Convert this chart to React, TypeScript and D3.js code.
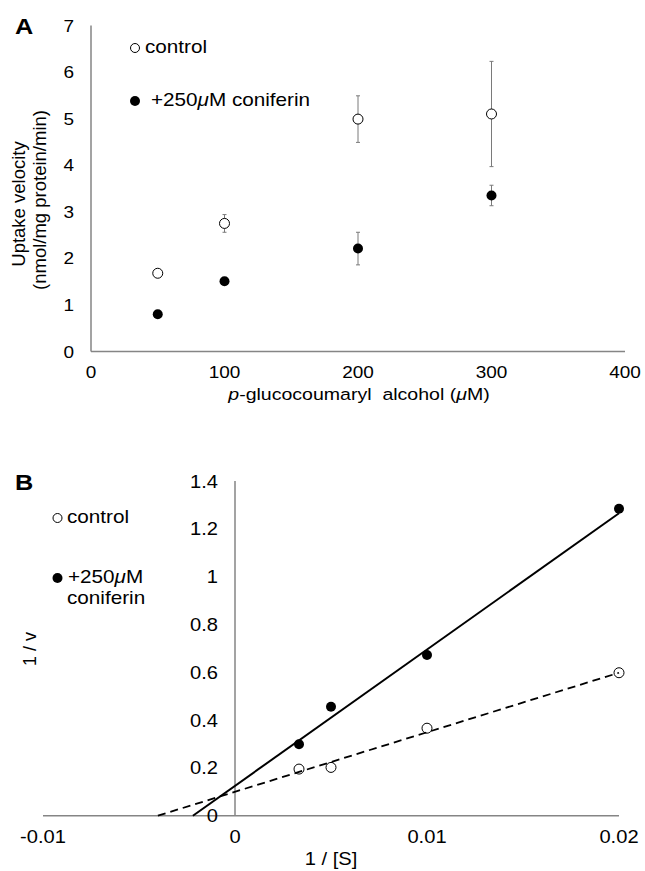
import React from 'react';
import * as d3 from 'd3';

// panel A: uptake velocity vs substrate
const concA = [50, 100, 200, 300];
const controlV = [1.68, 2.75, 4.99, 5.1];
const controlErr = [0, 0.19, 0.5, 1.13];
const coniferinV = [0.8, 1.51, 2.21, 3.35];
const coniferinErr = [0, 0, 0.35, 0.22];
const ticksAx = [0, 100, 200, 300, 400];
const ticksAy = [0, 1, 2, 3, 4, 5, 6, 7];

// panel B: Lineweaver-Burk
const invS = [1 / 300, 1 / 200, 1 / 100, 1 / 50];
const controlInvV = [0.195, 0.202, 0.366, 0.598];
const coniferinInvV = [0.299, 0.456, 0.672, 1.284];
const controlFit = [24.9, 0.1]; // slope, intercept
const coniferinFit = [57.0, 0.125];
const ticksBx = [-0.01, 0, 0.01, 0.02];
const ticksBy = [0, 0.2, 0.4, 0.6, 0.8, 1, 1.2, 1.4];

const FONT = '"Liberation Sans", Arial, Helvetica, sans-serif';
const AXIS = '#858585';
const SX = 1.15;

const T = ({ x, y, size = 18, anchor = 'start', children, weight = 'normal' }: any) => (
  <text
    transform={`translate(${x},${y}) scale(${SX},1)`}
    fontSize={size}
    textAnchor={anchor}
    fontWeight={weight}
    fill="#000"
  >
    {children}
  </text>
);

const xA = d3.scaleLinear().domain([0, 400]).range([91, 625]);
const yA = d3.scaleLinear().domain([0, 7]).range([351.5, 25.5]);
const xB = d3.scaleLinear().domain([-0.01, 0.02]).range([43, 619]);
const yB = d3.scaleLinear().domain([0, 1.4]).range([815.7, 481]);

const fitLine = (fit: number[]) => {
  const x0 = -fit[1] / fit[0];
  const pts: [number, number][] = [x0, 0.02].map(x => [xB(x), yB(fit[1] + fit[0] * x)]);
  return d3.line()(pts) as string;
};

const fmtB = (d: number) => (d === 0 ? '0' : String(+d.toFixed(2)));

export default function App() {
  return (
    <svg
      width={645}
      height={871}
      style={{ position: 'absolute', left: 0, top: 0, background: '#fff' }}
      fontFamily={FONT}
    >
      <rect width={645} height={871} fill="#fff" />

      {/* ---------- Panel A ---------- */}
      <T x={15} y={34} size={22} weight="bold">A</T>
      <line x1={xA(0)} x2={xA(0)} y1={yA(0)} y2={yA(7)} stroke={AXIS} strokeWidth={1.5} />
      <line x1={xA(0)} x2={xA(400)} y1={yA(0)} y2={yA(0)} stroke={AXIS} strokeWidth={1.5} />
      {ticksAy.map(t => (
        <T key={'ay' + t} x={74} y={yA(t) + 6} size={16.5} anchor="end">{t}</T>
      ))}
      {ticksAx.map(t => (
        <T key={'ax' + t} x={xA(t)} y={378} size={16.5} anchor="middle">{t}</T>
      ))}
      <text transform="translate(25,204) rotate(-90)" fontSize={18.5} textAnchor="middle">Uptake velocity</text>
      <text transform="translate(46,200) rotate(-90)" fontSize={18.5} textAnchor="middle">(nmol/mg protein/min)</text>
      <T x={359} y={400} size={17} anchor="middle">
        <tspan fontStyle="italic">p</tspan>-glucocoumaryl{'\u00A0 '}alcohol (<tspan fontStyle="italic">μ</tspan>M)
      </T>

      {[{ v: controlV, e: controlErr }, { v: coniferinV, e: coniferinErr }].map((s, si) =>
        concA.map((c, i) =>
          s.e[i] > 0 ? (
            <g key={`eb${si}-${i}`} stroke="#7a7a7a" strokeWidth={1}>
              <line x1={xA(c)} x2={xA(c)} y1={yA(s.v[i] - s.e[i])} y2={yA(s.v[i] + s.e[i])} />
              <line x1={xA(c) - 2} x2={xA(c) + 2} y1={yA(s.v[i] - s.e[i])} y2={yA(s.v[i] - s.e[i])} />
              <line x1={xA(c) - 2} x2={xA(c) + 2} y1={yA(s.v[i] + s.e[i])} y2={yA(s.v[i] + s.e[i])} />
            </g>
          ) : null
        )
      )}
      {concA.map((c, i) => (
        <circle key={'ac' + i} cx={xA(c)} cy={yA(controlV[i])} r={5} fill="#fff" stroke="#000" strokeWidth={1} />
      ))}
      {concA.map((c, i) => (
        <circle key={'af' + i} cx={xA(c)} cy={yA(coniferinV[i])} r={5} fill="#000" />
      ))}

      <circle cx={135} cy={48} r={4.5} fill="#fff" stroke="#000" strokeWidth={1} />
      <T x={145} y={53}>control</T>
      <circle cx={135} cy={101} r={5} fill="#000" />
      <T x={151} y={106}>+250<tspan fontStyle="italic">μ</tspan>M coniferin</T>

      {/* ---------- Panel B ---------- */}
      <T x={15} y={490} size={22} weight="bold">B</T>
      <line x1={xB(0)} x2={xB(0)} y1={yB(0)} y2={yB(1.4)} stroke={AXIS} strokeWidth={1.5} />
      <line x1={xB(-0.01)} x2={xB(0.02)} y1={yB(0)} y2={yB(0)} stroke={AXIS} strokeWidth={1.5} />
      {ticksBy.map(t => (
        <T key={'by' + t} x={218} y={yB(t) + 6.5} size={17.5} anchor="end">{fmtB(t)}</T>
      ))}
      {ticksBx.map(t => (
        <T key={'bx' + t} x={xB(t)} y={843} size={17.5} anchor="middle">{fmtB(t)}</T>
      ))}
      <text transform="translate(36,649) rotate(-90)" fontSize={18} textAnchor="middle">1 / v</text>
      <T x={331} y={865} size={17.5} anchor="middle">1 / [S]</T>

      {invS.map((s, i) => (
        <circle key={'bc' + i} cx={xB(s)} cy={yB(controlInvV[i])} r={5} fill="#fff" stroke="#000" strokeWidth={1} />
      ))}
      {invS.map((s, i) => (
        <circle key={'bf' + i} cx={xB(s)} cy={yB(coniferinInvV[i])} r={5} fill="#000" />
      ))}
      <path d={fitLine(controlFit)} fill="none" stroke="#000" strokeWidth={1.8} strokeDasharray="8,5" />
      <path d={fitLine(coniferinFit)} fill="none" stroke="#000" strokeWidth={2} />

      <circle cx={57.5} cy={518} r={4.5} fill="#fff" stroke="#000" strokeWidth={1} />
      <T x={67} y={523}>control</T>
      <circle cx={57.5} cy={578} r={5} fill="#000" />
      <T x={68} y={583}>+250<tspan fontStyle="italic">μ</tspan>M</T>
      <T x={67} y={604}>coniferin</T>
    </svg>
  );
}
